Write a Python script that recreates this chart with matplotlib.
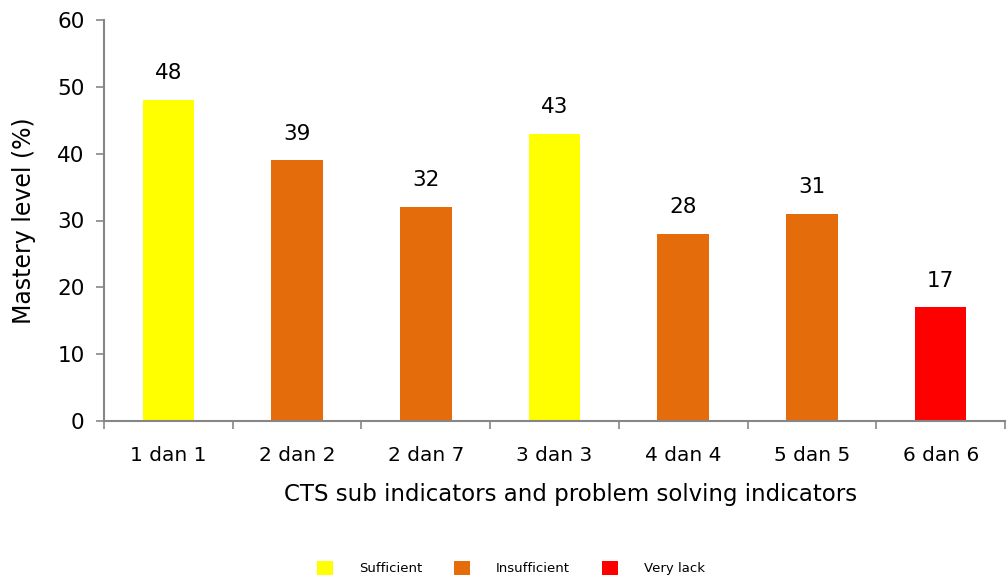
import numpy as np
import matplotlib.pyplot as plt
from matplotlib.patches import Patch

# ── Data ──────────────────────────────────────────────────────────────────────
categories = ['1 dan 1', '2 dan 2', '2 dan 7', '3 dan 3', '4 dan 4', '5 dan 5', '6 dan 6']
values = [48, 39, 32, 43, 28, 31, 17]
levels = ['Sufficient', 'Insufficient', 'Insufficient', 'Sufficient',
          'Insufficient', 'Insufficient', 'Very lack']

LEVEL_COLORS = {'Sufficient': '#FFFF00', 'Insufficient': '#E46C0A', 'Very lack': '#FF0000'}
AXIS_GRAY = '#868686'

plt.rcParams['font.family'] = ['Verdana', 'DejaVu Sans']

fig = plt.figure(figsize=(10.07, 5.77), dpi=100)
ax = fig.add_axes([104 / 1007, 1 - 421 / 577, (1005 - 104) / 1007, (421 - 20) / 577])

x = np.arange(len(categories))
ax.bar(x, values, width=0.4, color=[LEVEL_COLORS[l] for l in levels], zorder=2)

for xi, v in zip(x, values):
    ax.text(xi, v + 4, f'{v}', ha='center', va='center', fontsize=15.5)

ax.set_xlim(-0.5, len(categories) - 0.5)
ax.set_ylim(0, 60)
ax.set_yticks(range(0, 61, 10))
ax.set_xticks(x)
ax.set_xticklabels(categories, fontsize=14.5)
ax.set_xticks(np.arange(-0.5, len(categories)), minor=True)
ax.tick_params(axis='x', which='major', length=0, pad=18)
ax.tick_params(axis='x', which='minor', length=6, color=AXIS_GRAY, width=1.2)
ax.tick_params(axis='y', labelsize=15.5, length=6, color=AXIS_GRAY, width=1.2, pad=8)

for side in ['top', 'right']:
    ax.spines[side].set_visible(False)
for side in ['left', 'bottom']:
    ax.spines[side].set_color(AXIS_GRAY)
    ax.spines[side].set_linewidth(1.5)

ax.set_ylabel('Mastery level (%)', fontsize=17)
ax.yaxis.set_label_coords(-0.076, 0.5)
ax.set_xlabel('CTS sub indicators and problem solving indicators', fontsize=16.5)
ax.xaxis.set_label_coords(0.518, -0.155)

handles = [Patch(facecolor=LEVEL_COLORS[k], label=k) for k in ['Sufficient', 'Insufficient', 'Very lack']]
fig.legend(handles=handles, loc='center', bbox_to_anchor=(511 / 1007, 1 - 568 / 577),
           ncol=3, frameon=False, fontsize=9.5, handlelength=1.2, handleheight=1.3,
           columnspacing=2.4, handletextpad=2.0)

fig.savefig('out.png', dpi=100)
